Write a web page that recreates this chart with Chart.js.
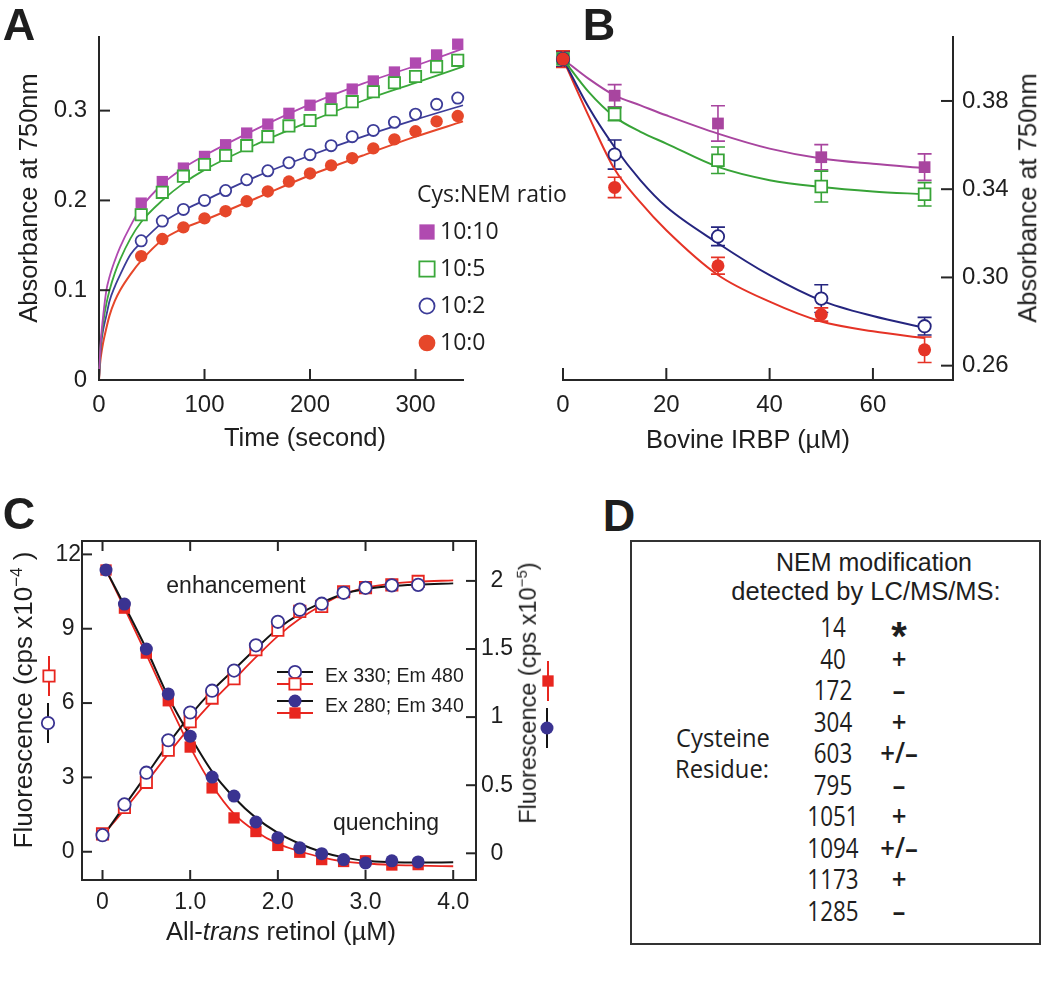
<!DOCTYPE html>
<html>
<head>
<meta charset="UTF-8">
<title>IRBP and NEM</title>
<script src="https://cdn.jsdelivr.net/npm/chart.js@4.4.1/dist/chart.umd.min.js"></script>
<style>
  body { margin: 0; background: #fff; }
  #fig { position: relative; width: 1050px; height: 1002px; font-family: "Liberation Sans", Arial, sans-serif; color: #1e1e1e; }
  canvas { position: absolute; }
  .lbl { position: absolute; white-space: nowrap; line-height: 1; transform: translate(-50%, -50%); }
  .rot { transform: translate(-50%, -50%) rotate(-90deg); }
  .panel { font-weight: bold; font-size: 45px; }
  .ttl { font-size: 25.5px; }
  #boxD { position: absolute; left: 630px; top: 540px; width: 407px; height: 401px; border: 2px solid #333; }
</style>
</head>
<body>
<div id="fig">
  <canvas id="chartA" width="600" height="470" style="left:0;top:0"></canvas>
  <canvas id="chartB" width="525" height="470" style="left:525px;top:0"></canvas>
  <canvas id="chartC" width="600" height="460" style="left:0;top:490px"></canvas>

  <div class="lbl panel" style="left:19px;top:24px">A</div>
  <div class="lbl panel" style="left:599px;top:24px">B</div>
  <div class="lbl panel" style="left:19px;top:513px">C</div>
  <div class="lbl panel" style="left:619px;top:515px">D</div>

  <div class="lbl ttl rot" style="left:29px;top:198px">Absorbance at 750nm</div>
  <div class="lbl ttl" style="left:305px;top:438px">Time (second)</div>
  <div class="lbl ttl rot" style="left:1028px;top:198px">Absorbance at 750nm</div>
  <div class="lbl ttl" style="left:748px;top:440px">Bovine IRBP (µM)</div>

  <div class="lbl rot" style="left:22px;top:700px;font-size:26px">Fluorescence (cps x10<sup style="font-size:17px">−4</sup> )</div>
  <div class="lbl rot" style="left:527px;top:693px;font-size:23.5px">Fluorescence (cps x10<sup style="font-size:15px">−5</sup>)</div>
  <div class="lbl" style="left:281px;top:932px;font-size:25.5px">All-<i>trans</i> retinol (µM)</div>
  <div class="lbl" style="left:236px;top:585px;font-size:23px">enhancement</div>
  <div class="lbl" style="left:386px;top:822px;font-size:23px">quenching</div>

  <div id="boxD"></div>
  <div id="tableD"></div>
</div>

<script>
// ---------- panel A: absorbance vs time ----------
const seriesA = ['10:10', '10:5', '10:2', '10:0'];
const timeA = [40, 60, 80, 100, 120, 140, 160, 180, 200, 220, 240, 260, 280, 300, 320, 340];
const absA1010 = [0.197, 0.221, 0.236, 0.249, 0.262, 0.275, 0.285, 0.297, 0.306, 0.314, 0.324, 0.333, 0.343, 0.353, 0.362, 0.374];
const absA105 = [0.184, 0.209, 0.227, 0.240, 0.250, 0.261, 0.271, 0.283, 0.289, 0.301, 0.310, 0.321, 0.331, 0.338, 0.349, 0.356];
const absA102 = [0.155, 0.177, 0.190, 0.200, 0.211, 0.223, 0.233, 0.242, 0.251, 0.261, 0.271, 0.278, 0.287, 0.296, 0.307, 0.314];
const absA100 = [0.138, 0.157, 0.170, 0.180, 0.188, 0.199, 0.210, 0.221, 0.230, 0.239, 0.247, 0.258, 0.268, 0.277, 0.288, 0.294];
const fitTimeA = [0, 1, 2, 4, 7, 10, 15, 20, 30, 40, 60, 80, 100, 150, 200, 250, 300, 345];
const fitA1010 = [0, 0.030, 0.048, 0.072, 0.100, 0.115, 0.133, 0.148, 0.172, 0.192, 0.218, 0.236, 0.250, 0.280, 0.307, 0.330, 0.350, 0.369];
const fitA105 = [0, 0.028, 0.044, 0.064, 0.085, 0.100, 0.119, 0.134, 0.158, 0.176, 0.200, 0.219, 0.234, 0.263, 0.288, 0.311, 0.331, 0.349];
const fitA102 = [0, 0.024, 0.040, 0.056, 0.072, 0.088, 0.104, 0.117, 0.140, 0.153, 0.175, 0.189, 0.200, 0.227, 0.250, 0.271, 0.290, 0.306];
const fitA100 = [0, 0.018, 0.028, 0.042, 0.058, 0.072, 0.088, 0.100, 0.118, 0.133, 0.156, 0.169, 0.178, 0.203, 0.228, 0.250, 0.271, 0.288];
const xTicksA = [0, 100, 200, 300];
const xLabelsA = ['0', '100', '200', '300'];
const yTicksA = [0, 0.1, 0.2, 0.3];
const yLabelsA = ['0', '0.1', '0.2', '0.3'];

// ---------- panel B: absorbance vs IRBP ----------
const concB = [0, 10, 30, 50, 70];
const absB1010 = [0.399, 0.3824, 0.3698, 0.3545, 0.350];
const absB105 = [0.399, 0.374, 0.3531, 0.3412, 0.3377];
const absB102 = [0.399, 0.3557, 0.3186, 0.2904, 0.2779];
const absB100 = [0.399, 0.3408, 0.3053, 0.2832, 0.2672];
const errB1010 = [0.0035, 0.005, 0.008, 0.0057, 0.006];
const errB105 = [0.0035, 0.003, 0.006, 0.007, 0.0053];
const errB102 = [0.0035, 0.0066, 0.0042, 0.0063, 0.004];
const errB100 = [0.0038, 0.0046, 0.0038, 0.003, 0.0058];
const fitConcB = [0, 5, 10, 15, 20, 30, 40, 50, 60, 70];
const fitB1010 = [0.399, 0.390, 0.3825, 0.378, 0.3735, 0.3652, 0.3584, 0.3539, 0.3515, 0.3496];
const fitB105 = [0.399, 0.384, 0.3728, 0.366, 0.3607, 0.3501, 0.3441, 0.341, 0.339, 0.3377];
const fitB102 = [0.399, 0.377, 0.359, 0.344, 0.332, 0.3155, 0.301, 0.2895, 0.2825, 0.2772];
const fitB100 = [0.399, 0.373, 0.349, 0.334, 0.3214, 0.3011, 0.289, 0.280, 0.2756, 0.2725];
const xTicksB = [0, 20, 40, 60];
const xLabelsB = ['0', '20', '40', '60'];
const yTicksB = [0.26, 0.30, 0.34, 0.38];
const yLabelsB = ['0.26', '0.30', '0.34', '0.38'];

// ---------- panel C: fluorescence vs retinol ----------
const seriesC = ['Ex 330; Em 480', 'Ex 280; Em 340'];
const retinolOpen = [0, 0.25, 0.5, 0.75, 1.0, 1.25, 1.5, 1.75, 2.0, 2.25, 2.5, 2.75, 3.0, 3.3, 3.6];
const retinolFilled = [0.04, 0.25, 0.5, 0.75, 1.0, 1.25, 1.5, 1.75, 2.0, 2.25, 2.5, 2.75, 3.0, 3.3, 3.6];
const enhCircle = [0.67, 1.91, 3.19, 4.5, 5.62, 6.5, 7.31, 8.33, 9.28, 9.77, 10.01, 10.45, 10.65, 10.75, 10.77];
const enhSquare = [0.72, 1.79, 2.8, 4.1, 5.25, 6.2, 6.98, 8.15, 8.94, 9.7, 9.9, 10.49, 10.66, 10.77, 10.91];
const quenchCircle = [2.08, 1.83, 1.50, 1.17, 0.86, 0.56, 0.42, 0.23, 0.115, 0.04, -0.003, -0.046, -0.071, -0.055, -0.063];
const quenchSquare = [2.08, 1.80, 1.47, 1.12, 0.78, 0.48, 0.26, 0.16, 0.058, 0.008, -0.046, -0.06, -0.055, -0.086, -0.083];
const fitRetinol = [0, 0.25, 0.5, 0.75, 1.0, 1.25, 1.5, 1.75, 2.0, 2.25, 2.5, 2.75, 3.0, 3.3, 3.6, 4.0];
const fitRetinolQ = [0.04, 0.25, 0.5, 0.75, 1.0, 1.25, 1.5, 1.75, 2.0, 2.25, 2.5, 2.75, 3.0, 3.3, 3.6, 4.0];
const fitEnhBlack = [0.6, 1.85, 3.1, 4.35, 5.5, 6.5, 7.35, 8.2, 9.0, 9.6, 10.05, 10.4, 10.6, 10.72, 10.78, 10.83];
const fitEnhRed = [0.65, 1.7, 2.8, 3.95, 5.05, 6.05, 6.95, 7.85, 8.7, 9.4, 9.95, 10.4, 10.65, 10.82, 10.9, 10.95];
const fitQuBlack = [2.08, 1.82, 1.50, 1.15, 0.86, 0.6, 0.41, 0.26, 0.15, 0.07, 0.01, -0.03, -0.055, -0.065, -0.068, -0.066];
const fitQuRed = [2.08, 1.80, 1.46, 1.11, 0.78, 0.50, 0.29, 0.16, 0.07, 0.015, -0.03, -0.06, -0.075, -0.085, -0.09, -0.095];
const xTicksC = [0, 1, 2, 3, 4];
const xLabelsC = ['0', '1.0', '2.0', '3.0', '4.0'];
const yTicksC = [0, 3, 6, 9, 12];
const yLabelsC = ['0', '3', '6', '9', '12'];
const y2TicksC = [0, 0.5, 1, 1.5, 2];
const y2LabelsC = ['0', '0.5', '1', '1.5', '2'];

// ---------- panel D: modified cysteines ----------
const residuesD = ['14', '40', '172', '304', '603', '795', '1051', '1094', '1173', '1285'];
const marksD = ['*', '+', '–', '+', '+/–', '–', '+', '+/–', '+', '–'];

// ---------- helpers ----------
const pts = (xs, ys) => xs.map((x, i) => ({ x: x, y: ys[i] }));
const INK = '#262626';

function axis(o) {
  return {
    type: 'linear', position: o.pos, min: o.min, max: o.max,
    grid: { display: false, drawTicks: false },
    border: { display: o.border !== false, color: INK, width: 2 },
    ticks: {
      font: { family: 'Liberation Sans', size: o.fs }, color: '#1e1e1e',
      padding: o.pad, crossAlign: o.cross || 'near', maxRotation: 0, autoSkip: false,
      callback: (v, i) => o.labels[i]
    },
    afterBuildTicks: s => { s.ticks = o.ticks.map(v => ({ value: v })); },
    afterFit: s => { if (s.isHorizontal()) s.height = o.size; else s.width = o.size; }
  };
}

function marker(ctx, style, x, y, r, fill, stroke, lw) {
  ctx.beginPath();
  if (style === 'rect') {
    const s = r * Math.SQRT1_2;
    ctx.rect(x - s, y - s, 2 * s, 2 * s);
  } else {
    ctx.arc(x, y, r, 0, 2 * Math.PI);
  }
  ctx.fillStyle = fill;
  ctx.fill();
  if (lw) { ctx.lineWidth = lw; ctx.strokeStyle = stroke; ctx.stroke(); }
}

function points(label, xs, ys, style, r, color, open, order) {
  return {
    label: label, data: pts(xs, ys), showLine: false, clip: false, order: order,
    pointStyle: style, pointRadius: r, pointHoverRadius: r,
    borderColor: color, pointBorderColor: color,
    pointBackgroundColor: open ? '#fff' : color,
    pointBorderWidth: open ? 1.8 : 0
  };
}

function fit(xs, ys, color, width, order) {
  return {
    data: pts(xs, ys), showLine: true, clip: false, order: order,
    borderColor: color, borderWidth: width, pointRadius: 0,
    cubicInterpolationMode: 'monotone'
  };
}

// inward tick marks on the chosen edges of each scale
const inTicks = {
  id: 'inTicks',
  afterDatasetsDraw(chart, args, o) {
    const ctx = chart.ctx, a = chart.chartArea;
    ctx.save();
    ctx.strokeStyle = INK;
    ctx.lineWidth = 2;
    Object.keys(o.axes).forEach(id => {
      const sc = chart.scales[id];
      sc.ticks.forEach(t => {
        const p = sc.getPixelForValue(t.value);
        o.axes[id].forEach(edge => {
          ctx.beginPath();
          if (edge === 'bottom') { ctx.moveTo(p, a.bottom); ctx.lineTo(p, a.bottom - o.len); }
          if (edge === 'top') { ctx.moveTo(p, a.top); ctx.lineTo(p, a.top + o.len); }
          if (edge === 'left') { ctx.moveTo(a.left, p); ctx.lineTo(a.left + o.len, p); }
          if (edge === 'right') { ctx.moveTo(a.right, p); ctx.lineTo(a.right - o.len, p); }
          ctx.stroke();
        });
      });
    });
    if (o.frame) ctx.strokeRect(a.left, a.top, a.right - a.left, a.bottom - a.top);
    ctx.restore();
  }
};

const errorBars = {
  id: 'errorBars',
  beforeDatasetsDraw(chart, args, o) {
    const ctx = chart.ctx, xs = chart.scales.x, ys = chart.scales.y;
    ctx.save();
    ctx.lineWidth = 1.6;
    chart.data.datasets.forEach(ds => {
      if (!ds.errors) return;
      ctx.strokeStyle = ds.borderColor;
      ds.data.forEach((p, i) => {
        const x = xs.getPixelForValue(p.x);
        const y1 = ys.getPixelForValue(p.y - ds.errors[i]);
        const y2 = ys.getPixelForValue(p.y + ds.errors[i]);
        ctx.beginPath();
        ctx.moveTo(x, y1); ctx.lineTo(x, y2);
        ctx.moveTo(x - o.cap, y1); ctx.lineTo(x + o.cap, y1);
        ctx.moveTo(x - o.cap, y2); ctx.lineTo(x + o.cap, y2);
        ctx.stroke();
      });
    });
    ctx.restore();
  }
};

// legend for A, drawn beside the curves
const keyA = {
  id: 'keyA',
  afterDraw(chart, args, o) {
    const ctx = chart.ctx;
    ctx.save();
    ctx.font = '23px "Open Sans"';
    ctx.textBaseline = 'middle';
    ctx.fillStyle = '#1e1e1e';
    ctx.fillText(o.title, o.x - 10, o.y);
    seriesA.forEach((name, i) => {
      const ds = chart.data.datasets[i];
      const y = o.y + (i + 1) * o.gap;
      marker(ctx, ds.pointStyle, o.x, y, ds.pointRadius * 1.35, ds.pointBackgroundColor, ds.pointBorderColor, ds.pointBorderWidth);
      ctx.fillStyle = '#1e1e1e';
      ctx.fillText(name, o.x + 13, y);
    });
    ctx.restore();
  }
};

// legend of C plus the small keys beside both y titles
const keyC = {
  id: 'keyC',
  afterDraw(chart, args, o) {
    const ctx = chart.ctx;
    const ds = chart.data.datasets;
    ctx.save();
    o.keys.forEach(k => {
      const d = ds[k.ds];
      ctx.strokeStyle = k.line;
      ctx.lineWidth = 2;
      ctx.beginPath();
      if (k.vertical) { ctx.moveTo(k.x, k.y - 20); ctx.lineTo(k.x, k.y + 20); }
      else { ctx.moveTo(k.x - 18, k.y); ctx.lineTo(k.x + 18, k.y); }
      ctx.stroke();
      marker(ctx, d.pointStyle, k.x, k.y, d.pointRadius, d.pointBackgroundColor, d.pointBorderColor, d.pointBorderWidth);
    });
    ctx.font = '19.5px "Liberation Sans"';
    ctx.fillStyle = '#1e1e1e';
    ctx.textBaseline = 'middle';
    seriesC.forEach((name, i) => ctx.fillText(name, o.textX, o.textY[i]));
    ctx.restore();
  }
};

const base = (padding, scales, plugins) => ({
  responsive: false, animation: false, events: [],
  layout: { padding: padding },
  scales: scales,
  plugins: Object.assign({ legend: { display: false }, tooltip: { enabled: false } }, plugins)
});

// ---------- chart A ----------
const magA = '#b04ab0', grnA = '#3aa83a', bluA = '#3c3c98', redA = '#e6472a';
new Chart(document.getElementById('chartA'), {
  type: 'scatter',
  data: {
    datasets: [
      points(seriesA[0], timeA, absA1010, 'rect', 8, magA, false, 4),
      points(seriesA[1], timeA, absA105, 'rect', 8, grnA, true, 3),
      points(seriesA[2], timeA, absA102, 'circle', 5.6, bluA, true, 2),
      points(seriesA[3], timeA, absA100, 'circle', 6.2, redA, false, 1),
      fit(fitTimeA, fitA1010, magA, 1.8, 10),
      fit(fitTimeA, fitA105, grnA, 1.8, 10),
      fit(fitTimeA, fitA102, bluA, 1.8, 10),
      fit(fitTimeA, fitA100, redA, 2, 10)
    ]
  },
  options: base({ left: 0, top: 37, right: 137, bottom: 0 }, {
    x: axis({ pos: 'bottom', min: 0, max: 345, ticks: xTicksA, labels: xLabelsA, fs: 24, pad: 11, size: 90 }),
    y: axis({ pos: 'left', min: 0, max: 0.382, ticks: yTicksA, labels: yLabelsA, fs: 24, pad: 12, size: 99 })
  }, {
    inTicks: { len: 11, axes: { x: ['bottom'], y: ['left'] } },
    keyA: { title: 'Cys:NEM ratio', x: 427, y: 195, gap: 37 }
  }),
  plugins: [inTicks, keyA]
});

// ---------- chart B ----------
const magB = '#a8459f', grnB = '#37a337', bluB = '#25257f', redB = '#e53326';
const withErr = (ds, err) => Object.assign(ds, { errors: err });
new Chart(document.getElementById('chartB'), {
  type: 'scatter',
  data: {
    datasets: [
      withErr(points(seriesA[0], concB, absB1010, 'rect', 8.3, magB, false, 4), errB1010),
      withErr(points(seriesA[1], concB, absB105, 'rect', 8.3, grnB, true, 3), errB105),
      withErr(points(seriesA[2], concB, absB102, 'circle', 6.2, bluB, true, 2), errB102),
      withErr(points(seriesA[3], concB, absB100, 'circle', 6.5, redB, false, 1), errB100),
      fit(fitConcB, fitB1010, magB, 2, 10),
      fit(fitConcB, fitB105, grnB, 2, 10),
      fit(fitConcB, fitB102, bluB, 2, 10),
      fit(fitConcB, fitB100, redB, 2, 10)
    ]
  },
  options: base({ left: 38, top: 37, right: 0, bottom: 0 }, {
    x: axis({ pos: 'bottom', min: 0, max: 75.5, ticks: xTicksB, labels: xLabelsB, fs: 24, pad: 11, size: 90 }),
    y: axis({ pos: 'right', min: 0.2535, max: 0.409, ticks: yTicksB, labels: yLabelsB, fs: 24, pad: 9, size: 97 })
  }, {
    inTicks: { len: 12, axes: { x: ['bottom'], y: ['right'] } },
    errorBars: { cap: 7 }
  }),
  plugins: [inTicks, errorBars]
});

// ---------- chart C ----------
const bluC = '#3a3391', redC = '#e8261f', blkC = '#141414';
const onAxis = (ds, id) => Object.assign(ds, { yAxisID: id });
new Chart(document.getElementById('chartC'), {
  type: 'scatter',
  data: {
    datasets: [
      onAxis(points(seriesC[0], retinolOpen, enhCircle, 'circle', 6.2, bluC, true, 1), 'y'),
      onAxis(points(seriesC[0], retinolOpen, enhSquare, 'rect', 8, redC, true, 3), 'y'),
      onAxis(points(seriesC[1], retinolFilled, quenchCircle, 'circle', 6.5, bluC, false, 2), 'y2'),
      onAxis(points(seriesC[1], retinolFilled, quenchSquare, 'rect', 8, redC, false, 4), 'y2'),
      onAxis(fit(fitRetinol, fitEnhBlack, blkC, 2, 11), 'y'),
      onAxis(fit(fitRetinol, fitEnhRed, redC, 1.8, 12), 'y'),
      onAxis(fit(fitRetinolQ, fitQuBlack, blkC, 2, 11), 'y2'),
      onAxis(fit(fitRetinolQ, fitQuRed, redC, 1.8, 12), 'y2')
    ]
  },
  options: base({ left: 0, top: 51, right: 0, bottom: 0 }, {
    x: axis({ pos: 'bottom', min: -0.234, max: 4.26, ticks: xTicksC, labels: xLabelsC, fs: 23, pad: 9, size: 70, border: false }),
    y: axis({ pos: 'left', min: -1.14, max: 12.54, ticks: yTicksC, labels: yLabelsC, fs: 23, pad: 1, size: 82, cross: 'center', border: false }),
    y2: axis({ pos: 'right', min: -0.196, max: 2.293, ticks: y2TicksC, labels: y2LabelsC, fs: 23, pad: 5, size: 124, cross: 'center', border: false })
  }, {
    inTicks: { len: 10, frame: true, axes: { x: ['bottom', 'top'], y: ['left'], y2: ['right'] } },
    keyC: {
      textX: 325, textY: [187, 217],
      keys: [
        { ds: 0, line: blkC, x: 295, y: 182 },
        { ds: 1, line: redC, x: 295, y: 194 },
        { ds: 2, line: blkC, x: 295, y: 211 },
        { ds: 3, line: redC, x: 295, y: 223 },
        { ds: 1, line: redC, x: 49, y: 186, vertical: true },
        { ds: 0, line: blkC, x: 48, y: 233, vertical: true },
        { ds: 3, line: redC, x: 548, y: 191, vertical: true },
        { ds: 2, line: blkC, x: 547, y: 238, vertical: true }
      ]
    }
  }),
  plugins: [inTicks, keyC]
});

// ---------- table D ----------
const tableD = document.getElementById('tableD');
function put(text, x, y, css, sx) {
  const d = document.createElement('div');
  d.className = 'lbl';
  d.style.left = x + 'px';
  d.style.top = y + 'px';
  d.style.cssText += css;
  if (sx) d.style.transform = 'translate(-50%, -50%) scaleX(' + sx + ')';
  d.textContent = text;
  tableD.appendChild(d);
}
const myr = 'font-family:"Open Sans";';
put('NEM modification', 874, 562, 'font-size:25px');
put('detected by LC/MS/MS:', 866, 592, 'font-size:25.5px');
put('Cysteine', 723, 737, myr + 'font-size:25px', 0.95);
put('Residue:', 722, 768, myr + 'font-size:25px', 0.95);
residuesD.forEach((r, i) => {
  const y = 626 + i * 31.5;
  put(r, 833, y, myr + 'font-size:27px', 0.83);
  if (marksD[i] === '*') put('*', 899, y + 10, 'font-size:40px;font-weight:bold');
  else put(marksD[i], 899, y, myr + 'font-size:28px;font-weight:600', 0.92);
});
</script>
</body>
</html>
